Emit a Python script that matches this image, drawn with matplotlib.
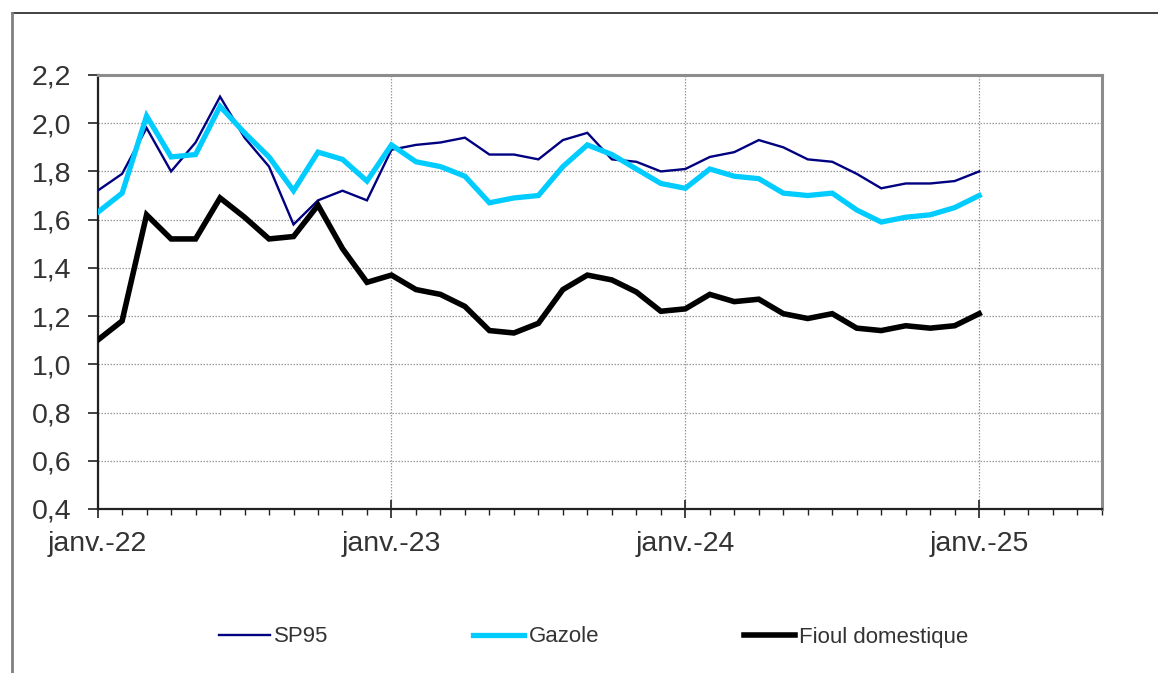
#!/usr/bin/env python3
"""Prix des carburants : SP95, gazole et fioul domestique (janv. 2022 - janv. 2025)."""

import matplotlib

matplotlib.use("Agg")
import matplotlib.pyplot as plt
from matplotlib import font_manager
from matplotlib.lines import Line2D
from matplotlib.ticker import FixedLocator, MultipleLocator
import numpy as np
import pandas as pd


MONTHS = pd.date_range("2022-01-01", periods=37, freq="MS")

SP95 = [
    1.72, 1.79, 1.98, 1.80, 1.92, 2.11, 1.94, 1.82, 1.58, 1.68, 1.72, 1.68,
    1.89, 1.91, 1.92, 1.94, 1.87, 1.87, 1.85, 1.93, 1.96, 1.85, 1.84, 1.80,
    1.81, 1.86, 1.88, 1.93, 1.90, 1.85, 1.84, 1.79, 1.73, 1.75, 1.75, 1.76,
    1.80,
]
GAZOLE = [
    1.63, 1.71, 2.03, 1.86, 1.87, 2.07, 1.96, 1.86, 1.72, 1.88, 1.85, 1.76,
    1.91, 1.84, 1.82, 1.78, 1.67, 1.69, 1.70, 1.82, 1.91, 1.87, 1.81, 1.75,
    1.73, 1.81, 1.78, 1.77, 1.71, 1.70, 1.71, 1.64, 1.59, 1.61, 1.62, 1.65,
    1.70,
]
FIOUL = [
    1.10, 1.18, 1.62, 1.52, 1.52, 1.69, 1.61, 1.52, 1.53, 1.66, 1.48, 1.34,
    1.37, 1.31, 1.29, 1.24, 1.14, 1.13, 1.17, 1.31, 1.37, 1.35, 1.30, 1.22,
    1.23, 1.29, 1.26, 1.27, 1.21, 1.19, 1.21, 1.15, 1.14, 1.16, 1.15, 1.16,
    1.21,
]
SERIES_LABELS = ["SP95", "Gazole", "Fioul domestique"]
Y_TICKS = [0.4, 0.6, 0.8, 1.0, 1.2, 1.4, 1.6, 1.8, 2.0, 2.2]
MONTHS_AHEAD = 5  # axis runs a few months past the last point

FR_MONTHS = ["janv.", "févr.", "mars", "avr.", "mai", "juin",
             "juil.", "août", "sept.", "oct.", "nov.", "déc."]

TEXT_COLOR = "#333333"


def month_label(ts):
    return f"{FR_MONTHS[ts.month - 1]}-{ts.year % 100:02d}"


def main():
    installed = {f.name for f in font_manager.fontManager.ttflist}
    narrow = "Liberation Sans Narrow" in installed

    plt.rcParams["font.family"] = ["Liberation Sans", "DejaVu Sans"]

    fig = plt.figure(figsize=(11.58, 6.73), dpi=100)
    ax = fig.add_axes([0.0843, 0.2437, 0.8670, 0.6449])

    x = np.arange(len(MONTHS))
    ax.plot(x, SP95, color="#000080", linewidth=1.7, label=SERIES_LABELS[0],
            solid_joinstyle="miter", zorder=3)
    ax.plot(x, GAZOLE, color="#00ccff", linewidth=3.8, label=SERIES_LABELS[1],
            solid_joinstyle="miter", zorder=4)
    ax.plot(x, FIOUL, color="#000000", linewidth=4.0, label=SERIES_LABELS[2],
            solid_joinstyle="miter", zorder=5)

    ax.set_xlim(0, len(MONTHS) - 1 + MONTHS_AHEAD)
    ax.set_ylim(Y_TICKS[0], Y_TICKS[-1])

    # x axis: january ticks crossing the axis, monthly minor ticks outside
    jan_idx = [i for i, m in enumerate(MONTHS) if m.month == 1]
    ax.xaxis.set_major_locator(FixedLocator(jan_idx))
    ax.set_xticklabels([month_label(MONTHS[i]) for i in jan_idx])
    ax.xaxis.set_minor_locator(MultipleLocator(1))
    ax.tick_params(axis="x", which="major", direction="inout", length=13.5,
                   width=1.2, color="#222222", pad=9, labelsize=20.5,
                   labelcolor=TEXT_COLOR)
    ax.tick_params(axis="x", which="minor", direction="out", length=4.5,
                   width=1.0, color="#222222")

    ax.set_yticks(Y_TICKS)
    ax.set_yticklabels([f"{v:.1f}".replace(".", ",") for v in Y_TICKS])
    ax.tick_params(axis="y", direction="out", length=7, width=1.2,
                   color="#222222", pad=12, labelsize=20.5, labelcolor=TEXT_COLOR)

    ax.grid(True, which="major", color="#9a9a9a", linewidth=0.9,
            linestyle=(0, (1.2, 1.2)), zorder=1)

    for side in ("left", "bottom"):
        ax.spines[side].set_color("#222222")
        ax.spines[side].set_linewidth(1.6)
    for side in ("top", "right"):
        ax.spines[side].set_color("#8c8c8c")
        ax.spines[side].set_linewidth(2.2)

    # outer frame of the exported chart (top and left edges only)
    fig.add_artist(Line2D([0.0104, 1.0], [0.9807, 0.9807], color="#222222",
                          linewidth=1.2, transform=fig.transFigure))
    fig.add_artist(Line2D([0.0104, 0.0104], [0.0, 0.9807], color="#808080",
                          linewidth=2.0, transform=fig.transFigure))

    if narrow:
        leg_font = {"family": "Liberation Sans Narrow", "size": 19.5}
        handlelength, columnspacing = 1.9, 5.3
    else:
        leg_font = {"family": "Liberation Sans", "size": 16}
        handlelength, columnspacing = 2.3, 6.5

    leg = fig.legend(
        loc="center",
        bbox_to_anchor=(0.5125, 1 - 637 / 673),
        ncol=3,
        frameon=False,
        prop=leg_font,
        handlelength=handlelength,
        handletextpad=0.2,
        columnspacing=columnspacing,
    )
    for text in leg.get_texts():
        text.set_color(TEXT_COLOR)

    fig.savefig("out.png", dpi=100, facecolor="white")


if __name__ == "__main__":
    main()
